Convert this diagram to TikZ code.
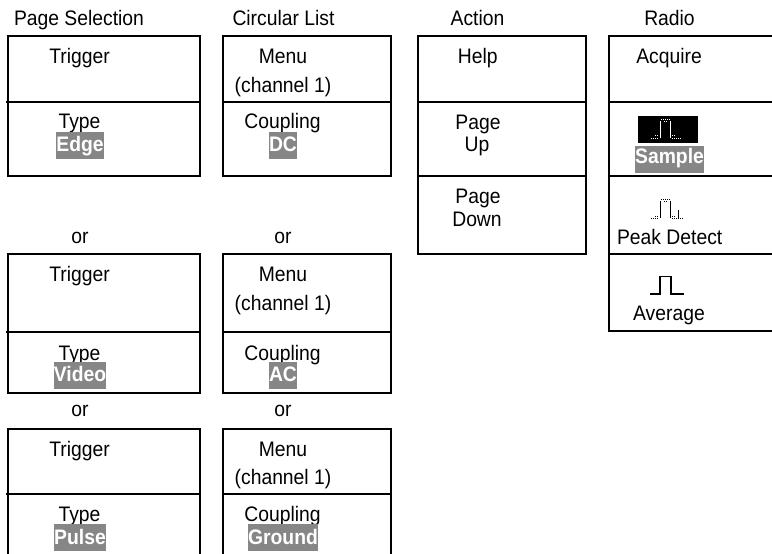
\documentclass[tikz,border=0pt]{standalone}
\usepackage{fontspec}
\setmainfont[FakeStretch=0.92]{Liberation Sans}
\tikzset{
  x=1pt,y=-1pt,
  frame/.style={draw=black,line width=2pt},
  lbl/.style={anchor=base,inner sep=0pt,outer sep=0pt,font=\fontsize{21}{24}\selectfont,text=black},
  sel/.style={anchor=base,inner sep=0pt,outer sep=0pt,font=\fontsize{21}{24}\selectfont\bfseries,text=white},
  selbg/.style={fill=selgray,draw=none},
  wave/.style={line width=1pt,line join=miter},
  dots/.style={line width=1pt,dash pattern=on 1pt off 1pt},
}
\definecolor{selgray}{HTML}{868686}
\begin{document}
\begin{tikzpicture}
\useasboundingbox (0,0) rectangle (772,554);
\fill[white] (0,0) rectangle (772,554);
% titles
\node[lbl] (t1) at (79,25) {Page Selection};
\node[lbl] (t2) at (283.5,25) {Circular List};
\node[lbl] (t3) at (477.5,25) {Action};
\node[lbl] (t4) at (669.5,25) {Radio};
% frames column 1
\draw[frame] (7.5,36) rectangle (200,176);
\draw[frame] (6,102) -- (200,102);
\draw[frame] (7.5,254) rectangle (200,393);
\draw[frame] (6,332) -- (200,332);
\draw[frame] (7.5,555) -- (7.5,428.5) -- (200,428.5) -- (200,555);
\draw[frame] (6,494) -- (200,494);
% frames column 2
\draw[frame] (222.5,36) rectangle (391,176);
\draw[frame] (222.5,102) -- (391,102);
\draw[frame] (222.5,254) rectangle (391,393);
\draw[frame] (222.5,332) -- (391,332);
\draw[frame] (222.5,555) -- (222.5,428.5) -- (391,428.5) -- (391,555);
\draw[frame] (222.5,494) -- (391,494);
% column 3
\draw[frame] (418,36) rectangle (586,254);
\draw[frame] (418,102) -- (586,102);
\draw[frame] (418,176) -- (586,176);
% column 4
\draw[frame] (773,36) -- (609,36) -- (609,331) -- (773,331);
\draw[frame] (609,102) -- (773,102);
\draw[frame] (609,176) -- (773,176);
\draw[frame] (609,254) -- (773,254);
% group 1
\node[lbl] (a1) at (79.5,63) {Trigger};
\node[lbl] (a2) at (79.5,128.5) {Type};
\fill[selbg] (56,132) rectangle (104,158.7);
\node[sel] (a3) at (80,151.7) {Edge};
\node[lbl] (b1) at (283,63) {Menu};
\node[lbl] (b2) at (283,92) {(channel 1)};
\node[lbl] (b3) at (282.5,128.5) {Coupling};
\fill[selbg] (269,132) rectangle (297,158.7);
\node[sel] (b4) at (283,151.7) {DC};
% or
\node[lbl] (o1) at (80,243.3) {or};
\node[lbl] (o2) at (283,243.3) {or};
% group 2
\node[lbl] (c1) at (79.5,281.7) {Trigger};
\node[lbl] (c2) at (79.5,360) {Type};
\fill[selbg] (54,362) rectangle (106,388.7);
\node[sel] (c3) at (80,381.7) {Video};
\node[lbl] (d1) at (283,281.7) {Menu};
\node[lbl] (d2) at (283,310) {(channel 1)};
\node[lbl] (d3) at (282.5,360) {Coupling};
\fill[selbg] (269,362) rectangle (297,388.7);
\node[sel] (d4) at (283,381.7) {AC};
% or
\node[lbl] (o3) at (80,416.7) {or};
\node[lbl] (o4) at (283,416.7) {or};
% group 3
\node[lbl] (e1) at (79.5,456) {Trigger};
\node[lbl] (e2) at (79.5,521.7) {Type};
\fill[selbg] (54,524) rectangle (106,550.7);
\node[sel] (e3) at (80,544) {Pulse};
\node[lbl] (f1) at (283,456) {Menu};
\node[lbl] (f2) at (283,484) {(channel 1)};
\node[lbl] (f3) at (282.5,521.7) {Coupling};
\fill[selbg] (248,524) rectangle (318,550.7);
\node[sel] (f4) at (283,544) {Ground};
% action
\node[lbl] (g1) at (477.7,63) {Help};
\node[lbl] (g2) at (478,129) {Page};
\node[lbl] (g3) at (477,151.7) {Up};
\node[lbl] (g4) at (478,203.3) {Page};
\node[lbl] (g5) at (477,226) {Down};
% radio
\node[lbl] (h1) at (669,63) {Acquire};
\fill[black] (638.3,116) rectangle (698.3,142.7);
\begin{scope}[white]
\draw[wave] (660.5,137.5) -- (660.5,120.5);
\draw[wave] (670.5,120.5) -- (670.5,137.5);
\draw[dots] (651,138) -- (659,138);
\draw[dots] (655,135.5) -- (659,135.5);
\draw[dots] (661,119.5) -- (670,119.5);
\draw[dots] (664,121.5) -- (667,121.5);
\draw[dots] (672,135.5) -- (675,135.5);
\draw[dots] (672,138) -- (682,138);
\end{scope}
\fill[selbg] (635,146) rectangle (704,172.7);
\node[sel] (h2) at (669.5,163.3) {Sample};
\draw[wave] (660.5,217.5) -- (660.5,200.5);
\draw[wave] (670.5,200.5) -- (670.5,217.5);
\draw[wave] (678,210) -- (678,217.5);
\draw[dots] (651,218.5) -- (659,218.5);
\draw[dots] (655,216) -- (659,216);
\draw[dots] (661,199.5) -- (670,199.5);
\draw[dots] (664,201.5) -- (667,201.5);
\draw[dots] (672,216) -- (675,216);
\draw[dots] (672,218.5) -- (684,218.5);
\node[lbl] (h3) at (669.7,244.3) {Peak Detect};
\draw[line width=1.3pt] (650,294) -- (660,294) -- (660,276.5) -- (671,276.5) -- (671,294) -- (684,294);
\node[lbl] (h4) at (669,320) {Average};
\end{tikzpicture}
\end{document}
